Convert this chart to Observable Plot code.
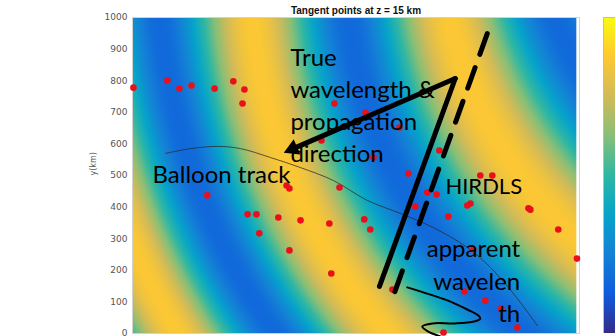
<!DOCTYPE html>
<html>
<head>
<meta charset="utf-8">
<script src="https://cdn.jsdelivr.net/npm/d3@7"></script>
<script src="https://cdn.jsdelivr.net/npm/@observablehq/plot@0.6"></script>
<style>
  html, body { margin: 0; padding: 0; background: #fff; }
  #chart { position: relative; width: 615px; height: 336px; overflow: hidden; }
  #chart > svg { position: absolute; left: 0; top: 0; }
  #chart > .bar { position: absolute; left: 603px; top: 17px; }
</style>
</head>
<body>
<div id="chart"></div>
<script>
// y axis ticks (km)
const yTicks = [0, 100, 200, 300, 400, 500, 600, 700, 800, 900, 1000];

// HIRDLS tangent points at z = 15 km (x, y in km)
const tpX = [3, 110, 148, 186, 259, 318, 353, 347,
  637, 735, 842, 596, 760, 968,
  236, 486, 495, 363, 391, 460, 530, 400, 495,
  870, 1097, 1135, 653, 930, 959, 1066, 1056, 892, 1249, 1255, 621, 731, 750, 996, 1343, 1075, 1402, 627, 820, 1047, 1113, 1163, 1214, 981];
const tpY = [778, 801, 775, 785, 775, 798, 772, 728,
  728, 699, 652, 611, 557, 579,
  437, 468, 459, 377, 377, 367, 358, 317, 263,
  506, 500, 500, 462, 446, 440, 411, 405, 402, 396, 392, 348, 361, 329, 370, 329, 266, 237, 190, 139, 133, 104, 79, 19, 3];

// balloon trajectory (km)
const trackX = [104, 183, 268, 341, 435, 530, 634, 741, 845, 949, 1056, 1129, 1201, 1277];
const trackY = [570, 585, 592, 585, 557, 525, 484, 421, 380, 335, 272, 209, 127, 25];

// wave phase (cycles) at a 3 x 3 set of nodes: columns phaseX, rows phaseY
const phaseX = [0, 700, 1400];
const phaseY = [0, 500, 1000];
const phaseRows = [
  [-1.25, -0.14, 0.66],
  [-0.85, 0.31, 1.2],
  [-0.65, 0.53, 1.6]
];

// annotation strokes (km)
const solidX = [1018, 779], solidY = [807, 149];
const dashX = [1119, 820], dashY = [949, 111];
const arrowFrom = [1018, 807], arrowTo = [479, 573];
const waveX = [867, 940, 1003, 1056, 1091, 1097, 1078, 1018, 946, 914, 933, 971];
const waveY = [146, 123, 101, 76, 57, 47, 38, 32, 32, 22, 6, -9];

// parula colour stops, interpolated piecewise through each stop
const parula = ["#352a87", "#0f5cdd", "#1481d6", "#06a4ca", "#2eb7a4", "#87bf77", "#d1bb59", "#fec832", "#f9fb0e"];
const parulaInterp = d3.piecewise(d3.interpolateRgb, parula);

// smooth (biquadratic) phase between the nodes
function lagrange(t) {
  return [(t - 1) * (t - 2) / 2, -t * (t - 2), t * (t - 1) / 2];
}
function phaseAt(x, y) {
  const lx = lagrange((x - phaseX[0]) / (phaseX[1] - phaseX[0]));
  const ly = lagrange((y - phaseY[0]) / (phaseY[1] - phaseY[0]));
  let p = 0;
  for (let j = 0; j < 3; ++j) for (let i = 0; i < 3; ++i) p += ly[j] * lx[i] * phaseRows[j][i];
  return p;
}

const tangentPoints = tpX.map((x, i) => ({x, y: tpY[i]}));
const track = trackX.map((x, i) => ({x, y: trackY[i]}));
const solid = solidX.map((x, i) => ({x, y: solidY[i]}));
const dashed = dashX.map((x, i) => ({x, y: dashY[i]}));
const wave = waveX.map((x, i) => ({x, y: waveY[i]}));

// arrow: shaft plus a filled triangular head; the frame is ~0.317 px per km on both axes
const kmPerPx = 1 / 0.317;
const ax = arrowTo[0] - arrowFrom[0], ay = arrowTo[1] - arrowFrom[1];
const alen = Math.hypot(ax, ay);
const headBack = 9 * kmPerPx;
const headCenter = {x: arrowTo[0] - ax / alen * headBack, y: arrowTo[1] - ay / alen * headBack};
const headAngle = Math.atan2(ax, ay) * 180 / Math.PI; // clockwise from up, in screen space
const shaft = [{x: arrowFrom[0], y: arrowFrom[1]}, headCenter];

const textFont = "Lato, 'Open Sans', sans-serif";

const chart = Plot.plot({
  width: 615,
  height: 336,
  marginTop: 17,
  marginBottom: 3,
  marginLeft: 132,
  marginRight: 36,
  style: {background: "transparent", color: "#555", fontFamily: "'DejaVu Sans', sans-serif", overflow: "visible"},
  x: {domain: [0, 1410], axis: null},
  y: {domain: [0, 1000], axis: null},
  color: {type: "linear", domain: [-1.486, 1.371], interpolate: parulaInterp},
  marks: [
    Plot.raster({
      x1: 0, x2: 1400, y1: 0, y2: 1000, pixelSize: 1,
      fill: (x, y) => Math.cos(2 * Math.PI * phaseAt(x, y))
    }),
    Plot.frame({stroke: "#d2d2d2"}),
    Plot.axisY({ticks: yTicks, tickSize: 0, tickPadding: 5, fontSize: 9, label: null, tickFormat: (d) => `${d}`}),
    Plot.text(["y(km)"], {frameAnchor: "left", rotate: -90, dx: -39, fontSize: 8, fill: "#555"}),
    Plot.text(["Tangent points at z = 15 km"], {
      frameAnchor: "top", lineAnchor: "bottom", dy: -4,
      fontSize: 10, fontWeight: "bold", fill: "#111", fontFamily: "'Liberation Sans', Arial, sans-serif"
    }),
    Plot.line(track, {x: "x", y: "y", stroke: "#2a2a2a", strokeWidth: 1, strokeOpacity: 0.75, curve: "catmull-rom"}),
    Plot.dot(tangentPoints, {x: "x", y: "y", r: 3.3, fill: "#ea0f1b"}),
    Plot.line(solid, {x: "x", y: "y", stroke: "black", strokeWidth: 5}),
    Plot.line(dashed, {x: "x", y: "y", stroke: "black", strokeWidth: 5, strokeDasharray: "22,14"}),
    Plot.line(shaft, {x: "x", y: "y", stroke: "black", strokeWidth: 5}),
    Plot.dot([headCenter], {x: "x", y: "y", symbol: "triangle", r: 6.2, fill: "black", rotate: headAngle}),
    Plot.line(wave, {x: "x", y: "y", stroke: "black", strokeWidth: 2, curve: "catmull-rom", clip: false}),
    Plot.text(["True\nwavelength &\npropagation\ndirection"], {
      x: 498, y: 544, textAnchor: "start", lineAnchor: "bottom", lineHeight: 1.333,
      fontSize: 24, fill: "black", fontFamily: textFont
    }),
    Plot.text(["Balloon track"], {
      x: 63, y: 475, textAnchor: "start", lineAnchor: "bottom",
      fontSize: 24, fill: "black", fontFamily: textFont
    }),
    Plot.text(["HIRDLS"], {
      x: 987, y: 443, textAnchor: "start", lineAnchor: "bottom",
      fontSize: 22, fill: "black", fontFamily: textFont
    }),
    Plot.text(["apparent\nwavelen\nth"], {
      x: 1223, y: 35, textAnchor: "end", lineAnchor: "bottom", lineHeight: 1.354,
      fontSize: 24, fill: "black", fontFamily: textFont
    })
  ]
});

// colour bar to the right of the axes
const bar = Plot.plot({
  width: 22,
  height: 316,
  margin: 0,
  style: {background: "transparent"},
  x: {domain: [0, 1], axis: null},
  y: {domain: [0, 1], axis: null},
  color: {type: "linear", domain: [0, 1], interpolate: parulaInterp},
  marks: [
    Plot.raster({x1: 0, x2: 1, y1: 0, y2: 1, pixelSize: 1, fill: (x, y) => y}),
    Plot.frame({stroke: "#bdbdbd"})
  ]
});
bar.classList.add("bar");

const root = document.getElementById("chart");
root.appendChild(chart);
root.appendChild(bar);
</script>
</body>
</html>
